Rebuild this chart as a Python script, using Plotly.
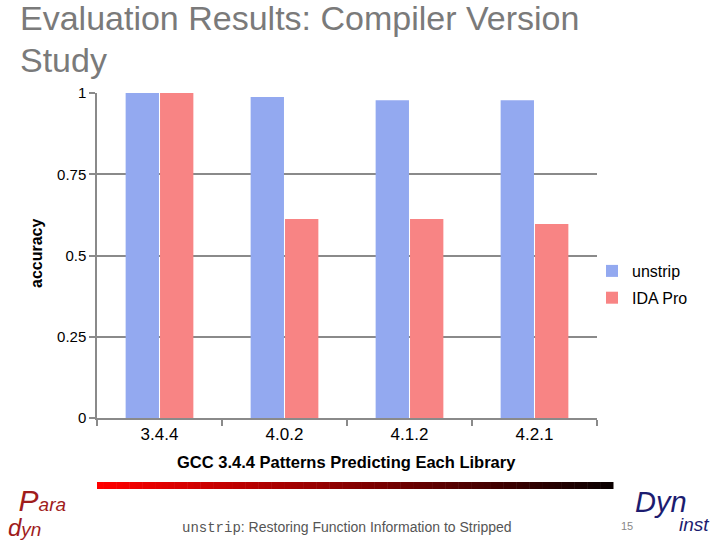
import plotly.graph_objects as go

categories = ["3.4.4", "4.0.2", "4.1.2", "4.2.1"]
unstrip_vals = [1.0, 0.988, 0.978, 0.978]
ida_vals = [1.0, 0.612, 0.612, 0.597]
y_ticks = [0, 0.25, 0.5, 0.75, 1]
y_tick_labels = ["0", "0.25", "0.5", "0.75", "1"]

W, H = 720, 540
L, R, T, B = 97, 597, 93, 418


def px(x):
    return (x - L) / (R - L)


def py(y):
    return (B - y) / (B - T)


fig = go.Figure()
fig.add_trace(go.Bar(x=categories, y=unstrip_vals, name="unstrip", legendgroup="a",
                     marker=dict(color="#93a9f0", line=dict(width=0))))
fig.add_trace(go.Bar(x=categories, y=ida_vals, name="IDA Pro", legendgroup="b",
                     marker=dict(color="#f88484", line=dict(width=0))))

fig.update_layout(
    width=W, height=H,
    margin=dict(l=L, r=W - R, t=T, b=H - B, pad=0),
    paper_bgcolor="white", plot_bgcolor="white",
    barmode="group", bargap=0.45, bargroupgap=0.03,
    font=dict(family="Liberation Sans, Arial, sans-serif", color="black"),
    showlegend=True,
    legend=dict(x=px(592), y=py(254), xanchor="left", yanchor="top",
                font=dict(size=16, color="black"),
                bgcolor="rgba(0,0,0,0)", traceorder="grouped",
                tracegroupgap=3, itemwidth=30),
)

fig.update_yaxes(range=[0, 1], tickvals=y_ticks, ticktext=y_tick_labels,
                 showgrid=True, gridcolor="#8a8a8a", gridwidth=1.5,
                 showline=True, linecolor="#8a8a8a", linewidth=1.5,
                 ticks="outside", ticklen=6, tickcolor="#8a8a8a", tickwidth=1.5,
                 tickfont=dict(size=15, color="black"), zeroline=False)
fig.update_xaxes(showline=True, linecolor="#8a8a8a", linewidth=1.5,
                 ticks="outside", ticklen=6, tickcolor="#8a8a8a", tickwidth=1.5,
                 tickson="boundaries", tickfont=dict(size=17, color="black"),
                 showgrid=False)

ann = []
# Title
for txt, yy in [("Evaluation Results: Compiler Version", 18), ("Study", 60)]:
    ann.append(dict(text=txt, x=px(18), y=py(yy),
                    xref="paper", yref="paper", xanchor="left", yanchor="middle",
                    showarrow=False, font=dict(size=34, color="#7a7a7a")))
# Axis titles
ann.append(dict(text="<b>accuracy</b>", x=px(36), y=py(254), textangle=-90,
                xref="paper", yref="paper", xanchor="center", yanchor="middle",
                showarrow=False, font=dict(size=16, color="black")))
ann.append(dict(text="<b>GCC 3.4.4 Patterns Predicting Each Library</b>", x=px(346), y=py(462),
                xref="paper", yref="paper", xanchor="center", yanchor="middle",
                showarrow=False, font=dict(size=16.5, color="black")))
# Footer text
ann.append(dict(text="<span style='font-family:Liberation Mono, Courier New, monospace'>unstrip</span>: Restoring Function Information to Stripped",
                x=px(347), y=py(527), xref="paper", yref="paper",
                xanchor="center", yanchor="middle", showarrow=False,
                font=dict(size=14, color="#555555")))
ann.append(dict(text="15", x=px(627), y=py(526), xref="paper", yref="paper",
                xanchor="center", yanchor="middle", showarrow=False,
                font=dict(size=11, color="#888888")))
# Paradyn logo (single text block)
logo_red = "#a01c1c"
ann.append(dict(text="<i>&nbsp;&nbsp;<span style='font-size:30px'>P</span>ara<br>"
                     "<span style='font-size:24px'>d</span>yn</i>",
                x=px(6), y=py(512), align="left",
                xref="paper", yref="paper", xanchor="left", yanchor="middle",
                showarrow=False, font=dict(size=19, color=logo_red)))
# Dyninst logo
logo_blue = "#1c1c70"
ann.append(dict(text="<i>Dyn</i>", x=px(661), y=py(502),
                xref="paper", yref="paper", xanchor="center", yanchor="middle",
                showarrow=False, font=dict(size=29, color=logo_blue)))
ann.append(dict(text="<i>inst</i>", x=px(694), y=py(524),
                xref="paper", yref="paper", xanchor="center", yanchor="middle",
                showarrow=False, font=dict(size=19, color=logo_blue)))
fig.update_layout(annotations=ann)

# Gradient bar (red -> black)
shapes = []
n = 80
x0, x1 = 97, 613
for i in range(n):
    t = i / (n - 1)
    r = int(round(255 * (1 - t) + 10 * t))
    col = f"rgb({r},0,0)"
    a = x0 + (x1 - x0) * i / n
    b = x0 + (x1 - x0) * (i + 1) / n + 0.5
    shapes.append(dict(type="rect", xref="paper", yref="paper",
                       x0=px(a), x1=px(b), y0=py(489), y1=py(482),
                       fillcolor=col, line=dict(width=0), layer="above"))
fig.update_layout(shapes=shapes)

fig.write_html("out.html", config={"displayModeBar": False},
               post_script="document.body.style.margin='0';document.body.style.padding='0';")
